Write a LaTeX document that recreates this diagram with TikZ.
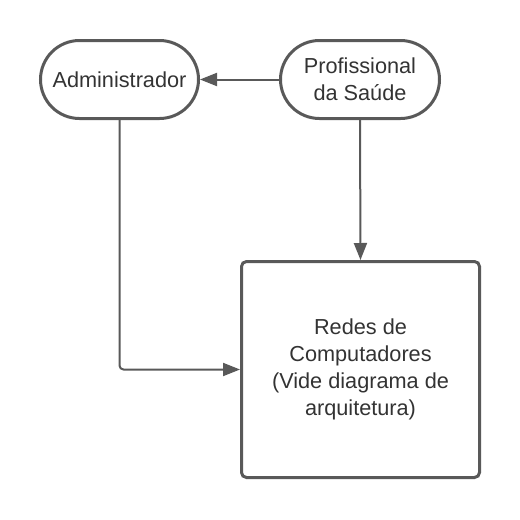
\documentclass[tikz,border=0pt]{standalone}
\usepackage{fontspec}
\setmainfont{Liberation Sans}
\usetikzlibrary{arrows.meta}
\definecolor{linegray}{HTML}{595959}
\definecolor{textgray}{HTML}{333333}

\tikzset{
  actor/.style={draw=linegray, line width=3pt, rounded corners=39pt, align=center,
    text=textgray, font=\fontsize{21.7}{27}\selectfont, inner sep=0pt},
  system/.style={draw=linegray, line width=3pt, rounded corners=5pt, align=center,
    text=textgray, font=\fontsize{21.7}{27}\selectfont, inner sep=0pt,
    minimum width=238pt, minimum height=216pt},
  link/.style={draw=linegray, line width=2pt, -{Triangle[length=17pt,width=13pt]}}
}

\begin{document}
\begin{tikzpicture}[x=1pt,y=-1pt]

\useasboundingbox (0,0) rectangle (520,520);

\node[actor, minimum width=158pt, minimum height=78pt] (admin) at (119.5,79.5) {Administrador};
\node[actor, minimum width=159pt, minimum height=78pt] (prof) at (360,79.5) {Profissional\\da Saúde};
\node[system] (redes) at (360.5,369.5) {Redes de\\Computadores\\(Vide diagrama de\\arquitetura)};

\draw[link] (prof.west) -- (admin.east);
\draw[link] (prof.south) -- (redes.north);
\draw[link, rounded corners=4pt] (admin.south) |- (redes.west);

\end{tikzpicture}
\end{document}
